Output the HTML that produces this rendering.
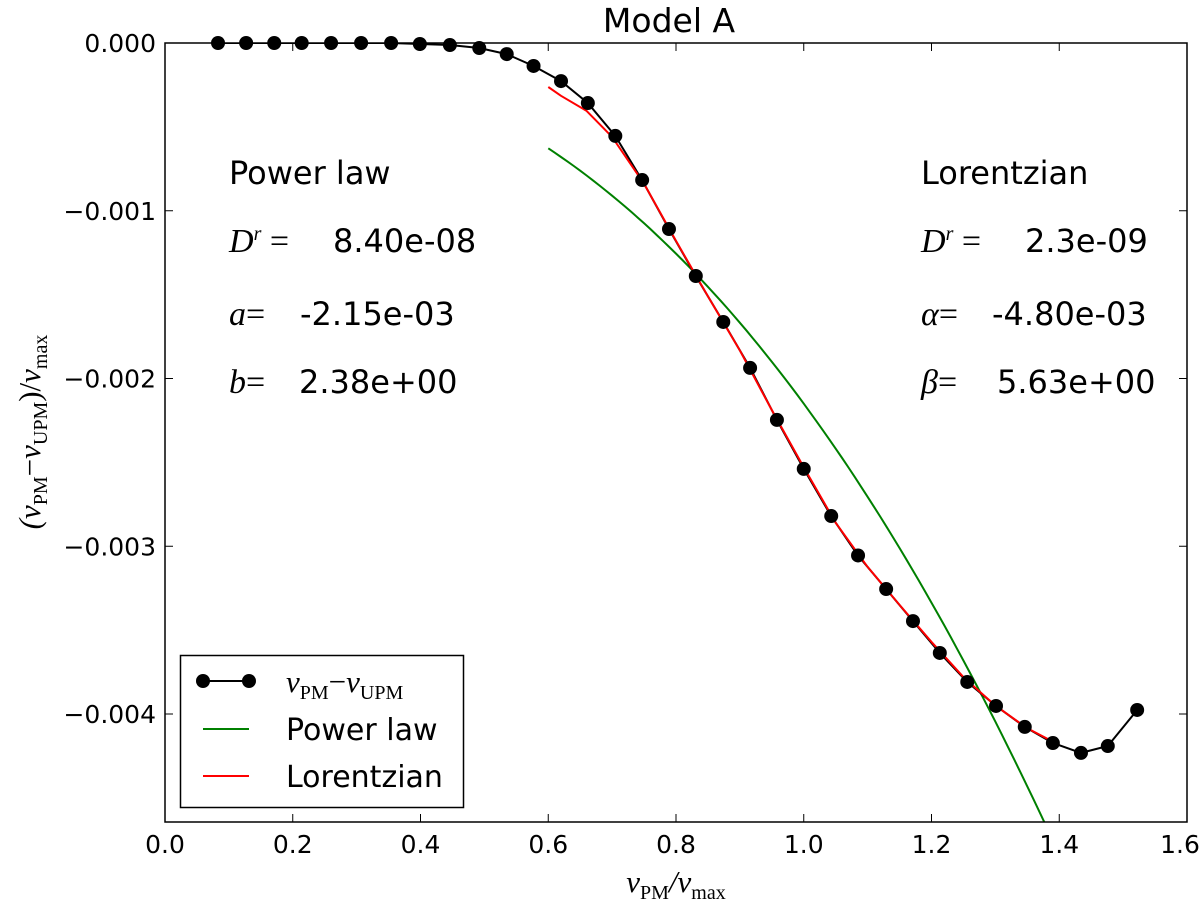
<!DOCTYPE html>
<html><head><meta charset="utf-8"><style>
html,body{margin:0;background:#fff;overflow:hidden;width:1200px;height:908px;}
svg{display:block;}
text{font-family:"DejaVu Sans","Liberation Sans",sans-serif;fill:#000;}
.m{font-family:"Liberation Serif","DejaVu Serif",serif;font-style:italic;}
</style></head><body>
<svg id="chart" width="1200" height="908" style="position:absolute;left:0;top:0">
<g id="plot"></g>
</svg>
<script>
// values in units of 1e-3
const dotX=[0.083,0.127,0.171,0.214,0.260,0.307,0.354,0.399,0.446,0.492,0.535,0.577,0.620,0.662,0.705,0.747,0.789,0.831,0.874,0.916,0.958,1.000,1.043,1.085,1.129,1.171,1.213,1.256,1.301,1.346,1.390,1.434,1.476,1.522];
const dotY=[0,0,0,0,0,0,0,-0.006,-0.012,-0.030,-0.066,-0.137,-0.227,-0.358,-0.554,-0.817,-1.109,-1.389,-1.663,-1.937,-2.247,-2.539,-2.820,-3.055,-3.255,-3.446,-3.636,-3.809,-3.952,-4.077,-4.173,-4.232,-4.191,-3.976];
const redX=[0.60,0.62,0.66,0.70,0.75,0.80,0.85,0.90,0.95,1.00,1.05,1.10,1.15,1.20,1.25,1.30,1.35,1.40];
const redY=[-0.262,-0.315,-0.405,-0.560,-0.840,-1.180,-1.510,-1.833,-2.188,-2.530,-2.860,-3.123,-3.350,-3.570,-3.780,-3.950,-4.085,-4.185];
const plA=-2.15, plB=2.41;
const xTicks=[0.0,0.2,0.4,0.6,0.8,1.0,1.2,1.4,1.6];
const yTicks=[0,-1,-2,-3,-4];
const yTickLabels=["0.000","\u22120.001","\u22120.002","\u22120.003","\u22120.004"];

const L=165,R=1187,T=43,B=822;
const sx=v=>L+(v-0)/1.6*(R-L);
const sy=v=>T-v*167.75;
const NS="http://www.w3.org/2000/svg";
const g=document.getElementById('plot');
function mk(tag,attrs,parent){const e=document.createElementNS(NS,tag);for(const k in attrs)e.setAttribute(k,attrs[k]);(parent||g).appendChild(e);return e;}
const defs=mk('defs',{});const cp=mk('clipPath',{id:'c'},defs);mk('rect',{x:L,y:T,width:R-L,height:B-T},cp);
xTicks.forEach(v=>{const x=sx(v);
 let t=mk('line',{x1:x,x2:x,y1:B,y2:B-8,stroke:'#000'});
 
 
 mk('line',{x1:x,x2:x,y1:T,y2:T+8,stroke:'#000'});
 let l=mk('text',{x:Math.min(x,1180),y:B+31,'text-anchor':'middle','font-size':'25'});l.textContent=v.toFixed(1);
 
 });
yTicks.forEach((v,i)=>{const y=sy(v);
 let t=mk('line',{x1:L,x2:L+8,y1:y,y2:y,stroke:'#000'});
 
 
 mk('line',{x1:R,x2:R-8,y1:y,y2:y,stroke:'#000'});
 let l=mk('text',{x:L-9,y:y+9,'text-anchor':'end','font-size':'25'});l.textContent=yTickLabels[i];
 
 });
const cg=mk('g',{'clip-path':'url(#c)'});
let gp='';for(let i=0;i<=100;i++){const x=0.6+i*0.01;const y=plA*Math.pow(x,plB);gp+=(i?'L':'M')+sx(x).toFixed(1)+','+sy(y).toFixed(1);}
let gl=mk('path',{d:gp,fill:'none',stroke:'#008000','stroke-width':2},cg);


let bp=dotX.map((x,i)=>(i?'L':'M')+sx(x).toFixed(1)+','+sy(dotY[i]).toFixed(1)).join('');
let bl=mk('path',{d:bp,fill:'none',stroke:'#000','stroke-width':2},cg);


let rp=redX.map((x,i)=>(i?'L':'M')+sx(x).toFixed(1)+','+sy(redY[i]).toFixed(1)).join('');
let rl=mk('path',{d:rp,fill:'none',stroke:'#ff0000','stroke-width':2,'stroke-linejoin':'round'},cg);


dotX.forEach((x,i)=>{let c=mk('circle',{cx:sx(x),cy:sy(dotY[i]),r:7,fill:'#000'});
 
 });
let fr=mk('rect',{x:L,y:T,width:R-L,height:B-T,fill:'none',stroke:'#000','stroke-width':1.5});


</script>
<svg width="1200" height="908" style="position:absolute;left:0;top:0">
<text x="669" y="32" text-anchor="middle" font-size="33">Model A</text>
<text x="676" y="892" text-anchor="middle" font-size="31" class="m">ν<tspan font-size="20" dy="7" font-style="normal">PM</tspan><tspan dy="-7">/ν</tspan><tspan font-size="20" dy="7" font-style="normal">max</tspan></text>
<text transform="translate(40,432) rotate(-90)" text-anchor="middle" font-size="31" class="m">(ν<tspan font-size="20" dy="7" font-style="normal">PM</tspan><tspan dy="-7" font-style="normal">−</tspan>ν<tspan font-size="20" dy="7" font-style="normal">UPM</tspan><tspan dy="-7" font-style="normal">)/</tspan>ν<tspan font-size="20" dy="7" font-style="normal">max</tspan></text>
<g>
<text x="229" y="184" font-size="32">Power law</text>
<text x="229" y="252" font-size="34" class="m">D<tspan font-size="20" dy="-12">r</tspan><tspan dy="12" font-style="normal">  =</tspan></text>
<text x="333" y="252" font-size="32">8.40e-08</text>
<text x="229" y="325" font-size="34" class="m">a<tspan font-style="normal">=</tspan></text>
<text x="300" y="325" font-size="32">-2.15e-03</text>
<text x="229" y="393" font-size="34" class="m">b<tspan font-style="normal">=</tspan></text>
<text x="299" y="393" font-size="32">2.38e+00</text>
</g>
<g>
<text x="921" y="184" font-size="32">Lorentzian</text>
<text x="921" y="252" font-size="34" class="m">D<tspan font-size="20" dy="-12">r</tspan><tspan dy="12" font-style="normal">  =</tspan></text>
<text x="1025" y="252" font-size="32">2.3e-09</text>
<text x="921" y="325" font-size="34" class="m">α<tspan font-style="normal">=</tspan></text>
<text x="992" y="325" font-size="32">-4.80e-03</text>
<text x="921" y="393" font-size="34" class="m">β<tspan font-style="normal">=</tspan></text>
<text x="997" y="393" font-size="32">5.63e+00</text>
</g>
<g>
<rect x="180.5" y="655.5" width="283" height="152" fill="#fff" stroke="#000" stroke-width="1.5"/>
<line x1="203" y1="681" x2="249" y2="681" stroke="#000" stroke-width="2"/>
<circle cx="203" cy="681" r="7"/><circle cx="249" cy="681" r="7"/>
<text x="286" y="692" font-size="31" class="m">ν<tspan font-size="20" dy="7" font-style="normal">PM</tspan><tspan dy="-7" font-style="normal">−</tspan>ν<tspan font-size="20" dy="7" font-style="normal">UPM</tspan></text>
<line x1="203" y1="729" x2="249" y2="729" stroke="#008000" stroke-width="2"/>
<text x="286" y="740" font-size="30">Power law</text>
<line x1="203" y1="776" x2="249" y2="776" stroke="#ff0000" stroke-width="2"/>
<text x="286" y="787" font-size="30">Lorentzian</text>
</g>
</svg>
</body></html>
